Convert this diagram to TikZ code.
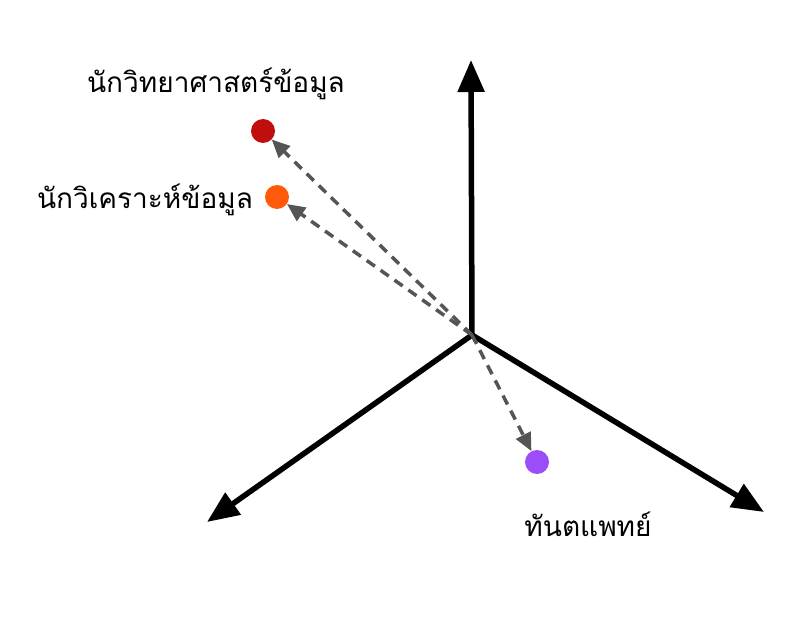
\documentclass[tikz,border=0pt]{standalone}
\usepackage{fontspec}
\newfontfamily\thaifont[Script=Thai]{Loma}
\usetikzlibrary{arrows.meta}
\definecolor{dsred}{HTML}{C00E0E}
\definecolor{daorange}{HTML}{FF5A0A}
\definecolor{dpurple}{HTML}{9B4DFA}
\definecolor{dgray}{HTML}{555555}
\tikzset{
  axis/.style={line width=5.5pt, black, -{Triangle[length=32pt,width=26pt]}},
  vec/.style={line width=3.5pt, dgray, dash pattern=on 10pt off 7pt, -{Triangle[length=18pt,width=16pt]}},
  dot/.style={circle, inner sep=0pt, minimum size=24pt},
  lbl/.style={font=\thaifont\fontsize{28}{32}\selectfont, inner sep=0pt}
}
\begin{document}
\begin{tikzpicture}[x=1pt,y=-1pt]
\useasboundingbox (0,0) rectangle (806,620);
\coordinate (o) at (472,335);
\coordinate (ax1) at (471,60);
\coordinate (ax2) at (207,522);
\coordinate (ax3) at (764,512);
\draw[axis] (o) -- (ax1);
\draw[axis] (o) -- (ax2);
\draw[axis] (o) -- (ax3);
\node[dot, fill=dsred] (ds) at (263,131) {};
\node[dot, fill=daorange] (da) at (277,197) {};
\node[dot, fill=dpurple] (dt) at (537,462) {};
\draw[vec] (o) -- (ds);
\draw[vec] (o) -- (da);
\draw[vec] (o) -- (dt);
\node[lbl] (lds) at (216,84) {นักวิทยาศาสตร์ข้อมูล};
\node[lbl] (lda) at (145,200) {นักวิเคราะห์ข้อมูล};
\node[lbl] (ldt) at (588,524) {ทันตแพทย์};
\end{tikzpicture}
\end{document}
